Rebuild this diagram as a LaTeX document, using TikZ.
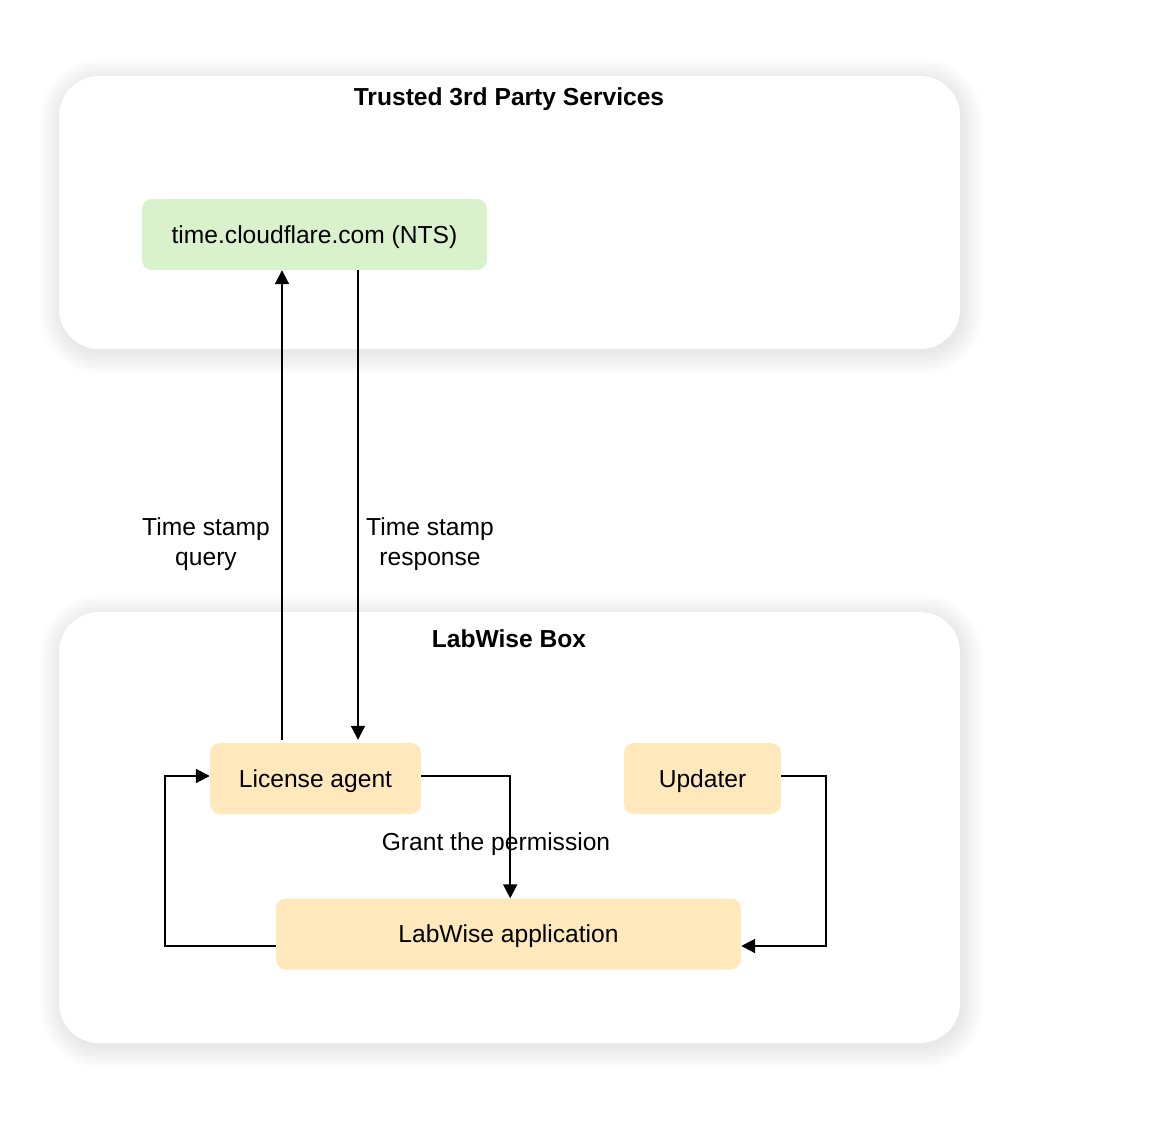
\documentclass[tikz,border=0pt]{standalone}
\usepackage{fontspec}
\setmainfont{Liberation Sans}
\usetikzlibrary{arrows.meta,calc}
\definecolor{greenfill}{HTML}{D9F2CB}
\definecolor{yellowfill}{HTML}{FFE9BC}
\tikzset{
  base/.style={font=\fontsize{24.6}{30}\selectfont, text=black, inner sep=0pt, align=center},
  container/.style={base, fill=white, rounded corners=40pt, minimum width=901pt, minimum height=#1},
  title/.style={base, font=\fontsize{24.6}{30}\selectfont\bfseries},
  boxtext/.style={base, text height=22pt, text depth=5pt, rounded corners=10pt, minimum height=71pt},
  greenbox/.style={boxtext, fill=greenfill},
  yellowbox/.style={boxtext, fill=yellowfill},
  lbl/.style={base},
  arr/.style={line width=2pt, -{Triangle[length=14pt,width=14pt]}},
}
\newcommand\softshadow[4]{%
  \foreach \i in {0,...,22}{%
    \pgfmathsetmacro\rr{40+\i}%
    \fill[black, fill opacity=0.0035, rounded corners=\rr pt]
      (#1-\i+2,#2-\i+4) rectangle (#3+\i+2,#4+\i+4);
  }%
}
\begin{document}
\begin{tikzpicture}[x=1pt,y=-1pt]
\useasboundingbox (0,0) rectangle (1150,1140);
% shadows
\softshadow{59}{76}{960}{349}
\softshadow{59}{612}{960}{1043}
% containers
\node[container=273pt] (tps) at (509.5,212.5) {};
\node[container=431pt] (box) at (509.5,827.5) {};
\node[title] (tpst) at (509,99) {Trusted 3rd Party Services};
\node[title] (boxt) at (509,639) {LabWise Box};
% nodes
\node[greenbox, minimum width=345pt] (cf) at (314.5,234.5) {time.cloudflare.com (NTS)};
\node[yellowbox, minimum width=211pt] (la) at (315.5,778.5) {License agent};
\node[yellowbox, minimum width=157pt] (up) at (702.5,778.5) {Updater};
\node[yellowbox, minimum width=465pt] (app) at (508.5,934) {LabWise application};
% labels
\node[lbl] (q) at (206,544) {Time stamp\\query};
\node[lbl] (r) at (430,544) {Time stamp\\response};
\node[lbl] (g) at (496,844) {Grant the permission};
% port coordinates
\coordinate (laE) at ([yshift=2.5pt]la.east);
\coordinate (laW) at ([yshift=2.5pt]la.west);
\coordinate (upE) at ([yshift=2.5pt]up.east);
\coordinate (appE) at ([yshift=-12pt]app.east);
\coordinate (appW) at ([yshift=-12pt]app.west);
\coordinate (laNq) at ([xshift=-33.5pt,yshift=3pt]la.north);
\coordinate (laNr) at ([xshift=42.5pt,yshift=3pt]la.north);
% connectors
\draw[arr] (laNq) -- (laNq |- cf.south);
\draw[arr] (laNr |- cf.south) -- (laNr);
\draw[arr] (laE) -- ++(89,0) coordinate (k1) -- (k1 |- app.north);
\draw[arr] (upE) -- ++(45,0) coordinate (k2) -- (k2 |- appE) -- (appE);
\draw[arr] (appW) -- ++(-111,0) coordinate (k3) -- (k3 |- laW) -- (laW);
\end{tikzpicture}
\end{document}
